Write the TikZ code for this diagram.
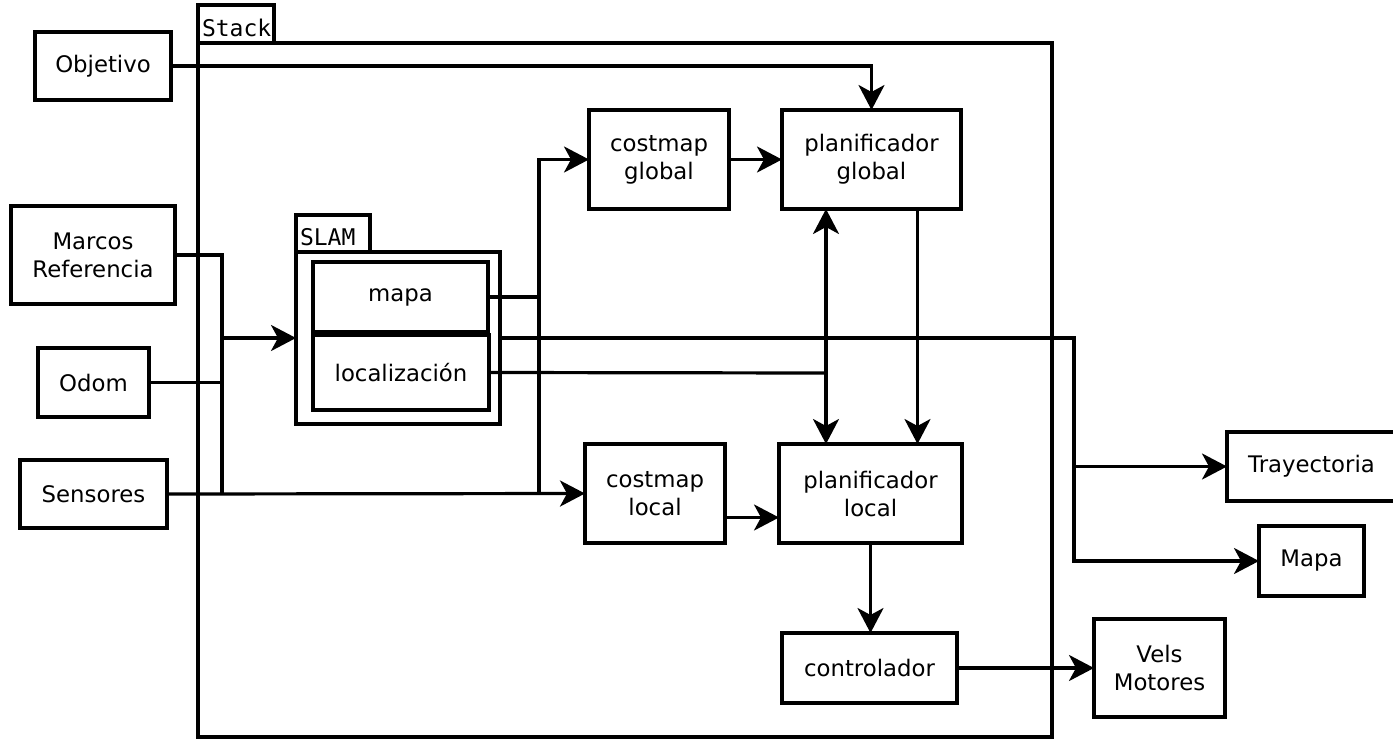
\documentclass[tikz,border=0pt]{standalone}
\usepackage{fontspec}
\setmainfont{DejaVu Sans}
\setmonofont{DejaVu Sans Mono}
\usetikzlibrary{arrows.meta}

\begin{document}
\begin{tikzpicture}[x=0.5pt,y=-0.5pt,
  font=\fontsize{11.4}{14}\selectfont]
\tikzset{%
  block/.style={draw,line width=1.7pt,inner sep=0pt,outer sep=0pt,
    align=center},
  tabbox/.style={draw,line width=1.7pt,inner sep=0pt,outer sep=0pt,
    anchor=south west},
  tablabel/.style={anchor=south west,inner sep=1.8pt,
    font=\fontsize{11.5}{14}\ttfamily},
  wire/.style={line width=1.6pt},
  arr/.style={wire,-{Stealth[length=12.5pt,width=13pt,inset=3.5pt]}}
}
\useasboundingbox (0,0) rectangle (1393,739);

%% stack frame

\node[block,minimum width=427pt,minimum height=347pt] (stack) at (625,390) {};
\node[tabbox,minimum width=38pt,minimum height=19pt] (stacktab) at (198,43) {};
\node[tablabel] (stacklbl) at ([yshift=1pt]stacktab.south west) {Stack};

%% inputs

\node[block,minimum width=68pt,minimum height=34pt] (obj) at (103,66) {Objetivo};
\node[block,minimum width=82pt,minimum height=49pt] (marcos) at (93,255)
  {Marcos\\Referencia};
\node[block,minimum width=55.5pt,minimum height=34.5pt] (odom) at (93.5,382.5) {Odom};
\node[block,minimum width=73.5pt,minimum height=34pt] (sens) at (93.5,494) {Sensores};

%% SLAM

\node[block,minimum width=102pt,minimum height=86pt] (slam) at (398,338) {};
\node[tabbox,minimum width=37pt,minimum height=18.5pt] (slamtab) at (296,252) {};
\node[tablabel] (slamlbl) at ([yshift=1pt]slamtab.south west) {SLAM};
\node[block,minimum width=87.5pt,minimum height=35pt] (mapa) at (400.5,297) {mapa};
\node[block,minimum width=88pt,minimum height=37.5pt] (loc) at (401,372.5)
  {localización};

%% planners

\node[block,minimum width=70pt,minimum height=49.5pt] (cglob) at (659,159.5)
  {costmap\\global};
\node[block,minimum width=89.5pt,minimum height=49.5pt] (pglob) at (871.5,159.5)
  {planificador\\global};
\node[block,minimum width=70pt,minimum height=49.5pt] (cloc) at (655,493.5)
  {costmap\\local};
\node[block,minimum width=91.5pt,minimum height=49.5pt] (ploc) at (870.5,493.5)
  {planificador\\local};
\node[block,minimum width=87.5pt,minimum height=35pt] (ctrl) at (869.5,668)
  {controlador};

%% outputs

\node[block,minimum width=65.5pt,minimum height=49pt] (vels) at (1159.5,668)
  {Vels\\Motores};
\node[block,minimum width=84.5pt,minimum height=34.5pt] (tray) at (1311.5,466.5)
  {Trayectoria};
\node[block,minimum width=52.5pt,minimum height=35pt] (mapaout) at (1311.5,561)
  {Mapa};

%% junctions

\coordinate (jin) at (222,494);   % inputs to SLAM
\coordinate (jmap) at (539,494);  % map to costmaps
\coordinate (jloc) at (826,373);  % pose to planners
\coordinate (jout) at (1074,561); % SLAM to outputs
\coordinate (gdown) at ([xshift=23pt]pglob.south);
\coordinate (lright) at ([yshift=-12pt]cloc.east);

%% connections

\draw[arr] (obj.east) -| (pglob.north);
\draw[wire] (marcos.east) -| (jin);
\draw[wire] (odom.east) -- (odom.east -| jin);
\draw[arr] (jin |- slam.west) -- (slam.west);
\draw[arr] (sens.east) -- (cloc.west);
\draw[wire] (mapa.east) -- (mapa.east -| jmap);
\draw[arr] (jmap) |- (cglob.west);
\draw[arr] (cglob.east) -- (pglob.west);
\draw[wire] (loc.east) -- (jloc);
\draw[arr] (jloc) -- (jloc |- pglob.south);
\draw[arr] (jloc) -- (jloc |- ploc.north);
\draw[arr] (gdown) -- (gdown |- ploc.north);
\draw[arr] (lright) -- (lright -| ploc.west);
\draw[arr] (ploc.south) -- (ploc.south |- ctrl.north);
\draw[arr] (ctrl.east) -- (vels.west);
\draw[arr] (slam.east) -| (jout) -- (mapaout.west);
\draw[arr] (jout |- tray.west) -- (tray.west);
\end{tikzpicture}
\end{document}
